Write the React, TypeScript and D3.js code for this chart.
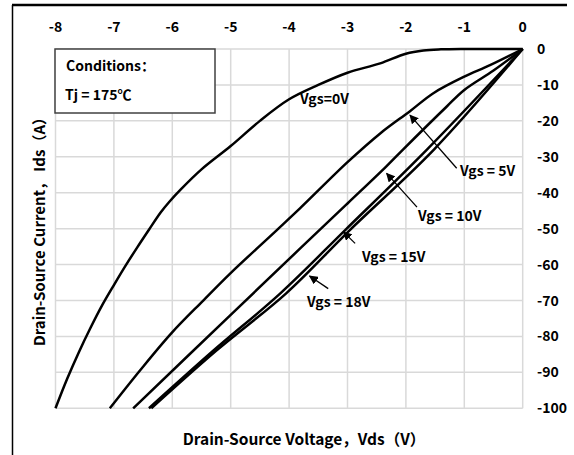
import React from 'react';
import * as d3 from 'd3';

// tick labels
const xTicks = [-8, -7, -6, -5, -4, -3, -2, -1, 0];
const yTicks = [0, -10, -20, -30, -40, -50, -60, -70, -80, -90, -100];

// curves: [Vds, Ids]
const vgs0: [number, number][] = [
  [0, 0], [-0.5, 0], [-1, 0], [-1.4, -0.1], [-1.7, -0.4], [-2, -1.3], [-2.44, -4],
  [-3, -6.6], [-3.5, -10], [-4, -14], [-4.5, -20], [-5, -27], [-5.5, -33.5],
  [-5.85, -39], [-6.05, -42.5], [-6.2, -45.5], [-6.4, -50.3], [-6.6, -55.2],
  [-6.8, -60.3], [-7, -65.7], [-7.2, -71.3], [-7.4, -77.6], [-7.6, -84.4],
  [-7.8, -91.8], [-8, -100],
];
const vgs5: [number, number][] = [
  [0, 0], [-0.56, -4.5], [-1, -7.7], [-1.53, -12.3], [-1.93, -17.3], [-2.44, -23.5],
  [-3, -31.5], [-3.81, -44.3], [-4.21, -50.4], [-5.01, -62.5], [-5.47, -70],
  [-6.01, -79], [-6.55, -89.4], [-7.07, -100],
];
const vgs10: [number, number][] = [
  [0, 0], [-0.5, -6], [-1, -11.4], [-1.3, -16], [-2.05, -28], [-2.33, -32.6],
  [-3, -43], [-3.81, -55.5], [-5, -74], [-6.67, -100],
];
const vgs15: [number, number][] = [
  [0, 0], [-1.64, -28], [-3.04, -50.4], [-4.15, -68], [-5.3, -84], [-6.4, -100],
];
const vgs18: [number, number][] = [
  [0, 0], [-1.52, -28], [-2.96, -50.4], [-4.05, -68], [-5.25, -84], [-6.36, -100],
];
const curves = [vgs0, vgs5, vgs10, vgs15, vgs18];

const font = "'Noto Sans CJK SC', sans-serif";

export default function App() {
  const width = 574;
  const height = 455;

  const x = d3.scaleLinear().domain([-8, 0]).range([55.5, 522.7]);
  const y = d3.scaleLinear().domain([-100, 0]).range([408.3, 49]);

  const line = d3
    .line<[number, number]>()
    .x(d => x(d[0]))
    .y(d => y(d[1]))
    .curve(d3.curveCatmullRom.alpha(0.5));

  // arrows: [fromVds, fromIds, toVds, toIds]
  const arrows = [
    { label: 'Vgs = 5V', tx: 460, ty: 176, a: [-1.13, -33.2, -1.93, -18.4] },
    { label: 'Vgs = 10V', tx: 418, ty: 221, a: [-1.81, -44, -2.33, -34.6] },
    { label: 'Vgs = 15V', tx: 362, ty: 262, a: [-2.87, -54.1, -3.07, -50.9] },
    { label: 'Vgs = 18V', tx: 307, ty: 307, a: [-3.33, -66.7, -3.65, -63.2] },
  ];

  return (
    <svg
      width={width}
      height={height}
      style={{ position: 'absolute', left: 0, top: 0, background: '#fff' }}
      fontFamily={font}
      fontWeight="bold"
    >
      <defs>
        <marker id="ah" viewBox="0 0 10 10" refX="9" refY="5" markerWidth="7" markerHeight="7" orient="auto">
          <path d="M0,0 L10,5 L0,10 z" fill="#000" />
        </marker>
      </defs>
      <rect width={width} height={height} fill="#fff" />
      {/* frame */}
      <line x1={12} y1={5} x2={567} y2={5} stroke="#000" strokeWidth={2.5} />
      <line x1={12.5} y1={5} x2={12.5} y2={455} stroke="#000" strokeWidth={1.5} />

      {/* grid */}
      {xTicks.map(t => (
        <line key={'gx' + t} x1={x(t)} x2={x(t)} y1={y(0)} y2={y(-100)} stroke="#d9d9d9" strokeWidth={1.5} />
      ))}
      {yTicks.map(t => (
        <line key={'gy' + t} x1={x(-8)} x2={x(0)} y1={y(t)} y2={y(t)} stroke="#d9d9d9" strokeWidth={1.5} />
      ))}

      {/* tick labels */}
      {xTicks.map(t => (
        <text key={'tx' + t} x={x(t)} y={32} textAnchor="middle" fontSize={14}>
          {t}
        </text>
      ))}
      {yTicks.map(t => (
        <text key={'ty' + t} x={537} y={y(t) + 5} fontSize={14}>
          {t}
        </text>
      ))}

      {/* curves */}
      {curves.map((c, i) => (
        <path key={'c' + i} d={line(c) ?? ''} fill="none" stroke="#000" strokeWidth={2.5} />
      ))}

      {/* conditions box */}
      <rect x={55} y={49} width={160} height={64} fill="#fff" stroke="#404040" strokeWidth={1.5} />
      <text x={66} y={71} fontSize={14}>Conditions：</text>
      <text x={65} y={100} fontSize={14}>Tj = 175℃</text>

      {/* annotations */}
      <text x={300} y={104} fontSize={14}>Vgs=0V</text>
      {arrows.map(a => (
        <g key={a.label}>
          <line
            x1={x(a.a[0])}
            y1={y(a.a[1])}
            x2={x(a.a[2])}
            y2={y(a.a[3])}
            stroke="#000"
            strokeWidth={1.3}
            markerEnd="url(#ah)"
          />
          <text x={a.tx} y={a.ty} fontSize={14}>{a.label}</text>
        </g>
      ))}

      {/* axis titles */}
      <text x={304} y={445} textAnchor="middle" fontSize={15.5}>
        Drain-Source Voltage，Vds（V）
      </text>
      <text
        transform="translate(45,228) rotate(-90)"
        textAnchor="middle"
        fontSize={15}
      >
        Drain-Source Current， Ids（A）
      </text>
    </svg>
  );
}
